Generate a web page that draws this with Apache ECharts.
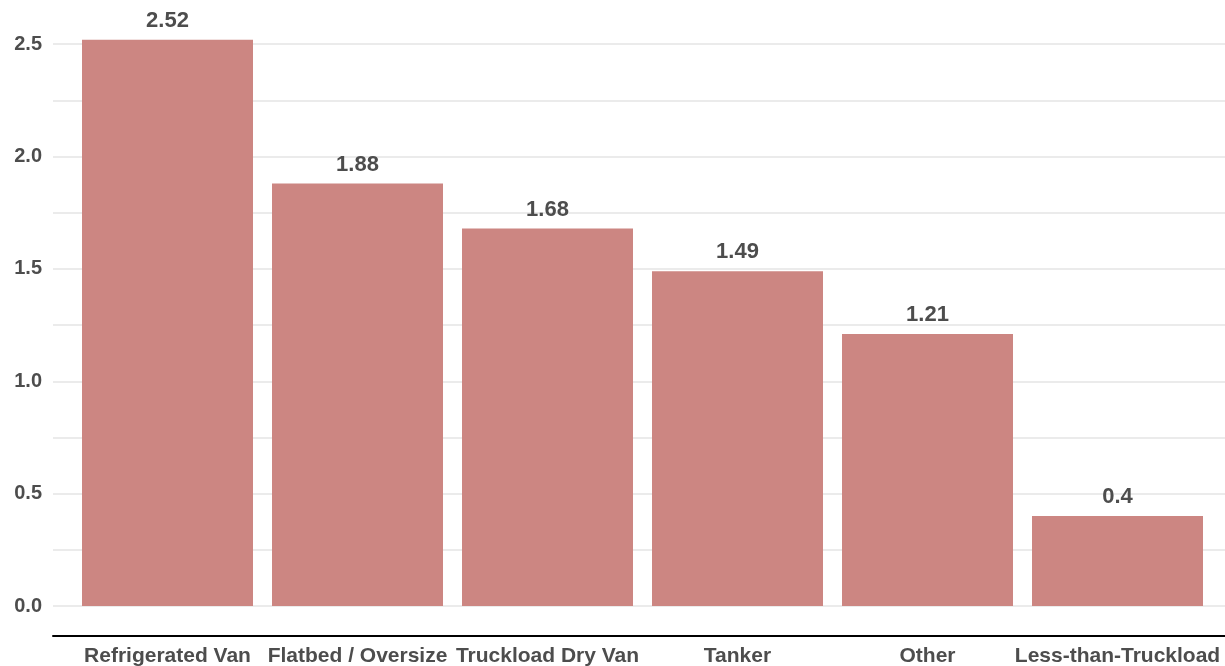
<!DOCTYPE html>
<html>
<head>
<meta charset="utf-8">
<script src="https://cdn.jsdelivr.net/npm/echarts@6/dist/echarts.min.js"></script>
<style>
  html, body { margin: 0; padding: 0; background: #ffffff; }
  #chart { width: 1225px; height: 666px; }
</style>
</head>
<body>
<div id="chart"></div>
<script>
// Trailer types and their values
const categories = ['Refrigerated Van', 'Flatbed / Oversize', 'Truckload Dry Van', 'Tanker', 'Other', 'Less-than-Truckload'];
const values = [2.52, 1.88, 1.68, 1.49, 1.21, 0.4];

const textColor = '#4d4d4d';
const barColor = '#cc8682';
const gridColor = '#ebebeb';
const fontFamily = 'Liberation Sans, Arial, sans-serif';
const yMin = 0, yMax = 2.75, yStep = 0.25;

const chart = echarts.init(document.getElementById('chart'), null, { renderer: 'canvas' });

chart.setOption({
  backgroundColor: '#ffffff',
  animation: false,
  grid: [
    // panel: gridlines and y labels
    { left: 53, right: -7, bottom: 60, height: 618, outerBoundsMode: 'none' },
    // bars, on the same vertical scale
    { left: 72.5, width: 1140, bottom: 60, height: 618, outerBoundsMode: 'none' },
    // bottom axis rule below the panel
    { left: 53, right: 0, top: 635, height: 1, outerBoundsMode: 'none' }
  ],
  xAxis: [
    {
      gridIndex: 0, type: 'category', data: categories, show: false
    },
    {
      gridIndex: 1, type: 'category', data: categories,
      axisLine: { show: false }, axisTick: { show: false }, splitLine: { show: false },
      axisLabel: {
        margin: 40, color: textColor, fontSize: 21, fontWeight: 'bold',
        fontFamily: fontFamily, interval: 0
      }
    },
    {
      gridIndex: 2, type: 'category', data: categories,
      axisLine: { show: true, lineStyle: { color: '#000000', width: 2 } },
      axisTick: { show: false }, axisLabel: { show: false }, splitLine: { show: false }
    }
  ],
  yAxis: [
    {
      gridIndex: 0, type: 'value', min: yMin, max: yMax, interval: yStep,
      axisLine: { show: false }, axisTick: { show: false },
      splitLine: { show: true, lineStyle: { color: gridColor, width: 2 } },
      axisLabel: {
        margin: 11, color: textColor, fontSize: 20, fontWeight: 'bold',
        fontFamily: fontFamily,
        formatter: function (v) {
          const r = Math.round(v * 100) / 100;
          return Math.abs(r * 2 - Math.round(r * 2)) < 1e-6 ? r.toFixed(1) : '';
        }
      }
    },
    {
      gridIndex: 1, type: 'value', min: yMin, max: yMax, interval: yStep,
      show: false, splitLine: { show: false }
    },
    {
      gridIndex: 2, type: 'value', min: 0, max: 1, show: false, splitLine: { show: false }
    }
  ],
  series: [
    {
      type: 'bar',
      xAxisIndex: 1, yAxisIndex: 1,
      data: values,
      barCategoryGap: '10%',
      itemStyle: { color: barColor },
      label: {
        show: true, position: 'top', distance: 8,
        color: textColor, fontSize: 22, fontWeight: 'bold',
        fontFamily: fontFamily,
        formatter: function (p) { return String(p.value); }
      }
    }
  ]
});
</script>
</body>
</html>
